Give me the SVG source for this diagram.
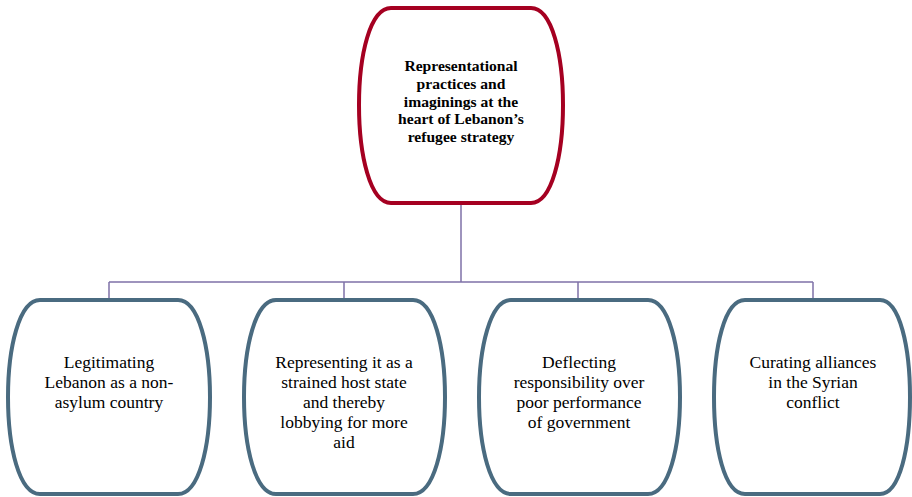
<svg xmlns="http://www.w3.org/2000/svg" width="912" height="497" viewBox="0 0 912 497">
<defs>
<style>
.bg{fill:#ffffff}
.top{fill:#ffffff;stroke:#A50021;stroke-width:4}
.leaf{fill:#ffffff;stroke:#4A6B80;stroke-width:4}
.conn{fill:none;stroke:#7F72A8;stroke-width:1.5}
.tt{font-family:'Liberation Serif','Times New Roman',serif;font-size:15.6px;font-weight:bold;fill:#000;text-anchor:middle}
.lt{font-family:'Liberation Serif','Times New Roman',serif;font-size:17.5px;fill:#000;text-anchor:middle}
</style>
</defs>
<rect class="bg" x="0" y="0" width="912" height="497"/>
<g id="connectors">
<path class="conn" d="M461,204 V282 M109,282 H813 M109,282 V300 M344,282 V300 M578,282 V300 M813,282 V300"/>
</g>
<g id="root">
<path class="top" d="M391,8 L531,8 C552,8 563,55 563,105 C563,155 552,203 531,203 L391,203 C370,203 359,155 359,105 C359,55 370,8 391,8 Z"/>
<text class="tt"><tspan x="461" y="71">Representational</tspan><tspan x="461" y="89">practices and</tspan><tspan x="461" y="107">imaginings at the</tspan><tspan x="461" y="124">heart of Lebanon’s</tspan><tspan x="461" y="142">refugee strategy</tspan></text>
</g>
<g id="n1">
<path class="leaf" d="M40,300 L178,300 C199,300 210,348 210,397 C210,447 199,494 178,494 L40,494 C19,494 8,447 8,397 C8,348 19,300 40,300 Z"/>
<text class="lt"><tspan x="109" y="368">Legitimating</tspan><tspan x="109" y="388">Lebanon as a non-</tspan><tspan x="109" y="408">asylum country</tspan></text>
</g>
<g id="n2">
<path class="leaf" d="M276,300 L413,300 C434,300 445,348 445,397 C445,447 434,494 413,494 L276,494 C255,494 244,447 244,397 C244,348 255,300 276,300 Z"/>
<text class="lt"><tspan x="344" y="368">Representing it as a</tspan><tspan x="344" y="388">strained host state</tspan><tspan x="344" y="408">and thereby</tspan><tspan x="344" y="428">lobbying for more</tspan><tspan x="344" y="448">aid</tspan></text>
</g>
<g id="n3">
<path class="leaf" d="M511,300 L648,300 C669,300 680,348 680,397 C680,447 669,494 648,494 L511,494 C490,494 479,447 479,397 C479,348 490,300 511,300 Z"/>
<text class="lt"><tspan x="579" y="368">Deflecting</tspan><tspan x="579" y="388">responsibility over</tspan><tspan x="579" y="408">poor performance</tspan><tspan x="579" y="428">of government</tspan></text>
</g>
<g id="n4">
<path class="leaf" d="M745,300 L880,300 C900,300 910,348 910,397 C910,447 900,494 880,494 L745,494 C724,494 714,447 714,397 C714,348 724,300 745,300 Z"/>
<text class="lt"><tspan x="813" y="368">Curating alliances</tspan><tspan x="813" y="388">in the Syrian</tspan><tspan x="813" y="408">conflict</tspan></text>
</g>
</svg>
